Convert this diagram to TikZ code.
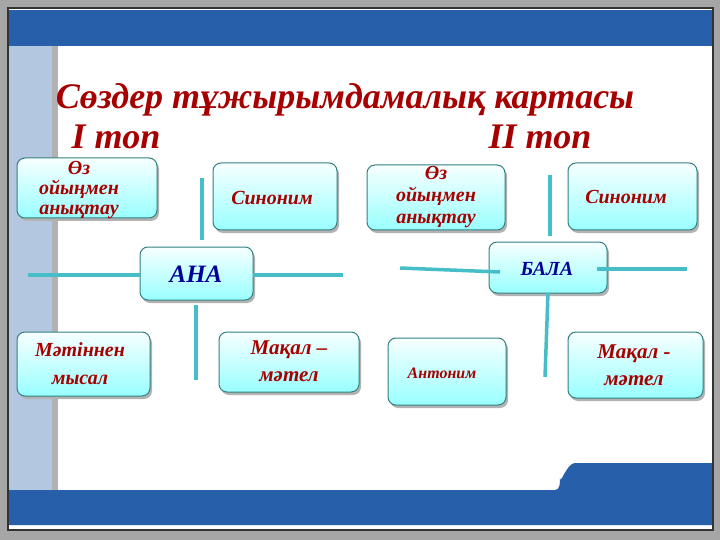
\documentclass[tikz,border=0pt]{standalone}
\usepackage{fontspec}
\setmainfont{Liberation Serif}
\begin{document}
\begin{tikzpicture}[x=1pt,y=-1pt,
 box/.style={draw=teal!60!gray,line width=1pt,rounded corners=8pt,top color=cyan!3,bottom color=cyan!40},
 sh/.style={fill=gray!60,rounded corners=8pt},
 txt/.style={text=red!65!black,align=center},
 ln/.style={draw=lncol,line width=3.5pt}]
\definecolor{bandblue}{RGB}{40,95,170}
\definecolor{lncol}{RGB}{70,190,200}
\useasboundingbox (0,0) rectangle (720,540);
\fill[gray!70] (0,0) rectangle (720,540);
\fill[white] (8,8) rectangle (713,530);
\fill[bandblue] (8,10) rectangle (713,46);
\fill[bandblue!35!white] (8,46) rectangle (52,490);
\fill[gray!60] (52,46) rectangle (58,490);
\fill[bandblue] (8,490) -- (555,490) to[out=0,in=-90] (560,478) to[out=-90,in=180] (575,463) -- (713,463) -- (713,525) -- (8,525) -- cycle;
\draw[black!80,line width=1.5pt] (8,8) rectangle (713,530);
% title
\node[txt,font=\bfseries\itshape\fontsize{36}{36}\selectfont] (t) at (345,100) {Сөздер тұжырымдамалық картасы};
\node[txt,font=\bfseries\itshape\fontsize{36}{36}\selectfont] (g1) at (116,137) {І топ};
\node[txt,font=\bfseries\itshape\fontsize{36}{36}\selectfont] (g2) at (540,137) {ІІ топ};
% boxes
\foreach \a/\b/\c/\d in {17/158/157/218,213/163/337/230,140/247/253/300,17/332/150/396,219/332/359/392,367/165/505/230,568/163/697/230,489/242/607/293,388/338/506/405,568/332/703/398}{
 \fill[sh] (\a+2,\b+3) rectangle (\c+2,\d+3);
 \draw[box] (\a,\b) rectangle (\c,\d);}
% lines
\draw[ln] (28,275) -- (140,275);
\draw[ln] (253,275) -- (343,275);
\draw[ln] (202,178) -- (202,240);
\draw[ln] (196,305) -- (196,380);
\draw[ln] (400,268) -- (500,272);
\draw[ln] (597,269) -- (687,269);
\draw[ln] (550,175) -- (550,236);
\draw[ln] (548,293) -- (545,377);
% texts
\node[txt,font=\bfseries\itshape\fontsize{20}{20}\selectfont] (n1) at (79,190) {Өз\\ойыңмен\\анықтау};
\node[txt,font=\bfseries\itshape\fontsize{20}{20}\selectfont] (n2) at (272,198) {Синоним};
\node[txt,text=blue!60!black,font=\bfseries\itshape\fontsize{25}{25}\selectfont] (n3) at (196,274) {АНА};
\node[txt,font=\bfseries\itshape\fontsize{20}{28}\selectfont] (n4) at (80,364) {Мәтіннен\\мысал};
\node[txt,font=\bfseries\itshape\fontsize{21}{27}\selectfont] (n5) at (289,361) {Мақал –\\мәтел};
\node[txt,font=\bfseries\itshape\fontsize{20}{22}\selectfont] (n6) at (436,197) {Өз\\ойыңмен\\анықтау};
\node[txt,font=\bfseries\itshape\fontsize{20}{20}\selectfont] (n7) at (626,197) {Синоним};
\node[txt,text=blue!60!black,font=\bfseries\itshape\fontsize{20}{20}\selectfont] (n8) at (547,269) {БАЛА};
\node[txt,font=\bfseries\itshape\fontsize{16}{16}\selectfont] (n9) at (442,373) {Антоним};
\node[txt,font=\bfseries\itshape\fontsize{21}{27}\selectfont] (n10) at (634,365) {Мақал -\\мәтел};
\end{tikzpicture}
\end{document}
